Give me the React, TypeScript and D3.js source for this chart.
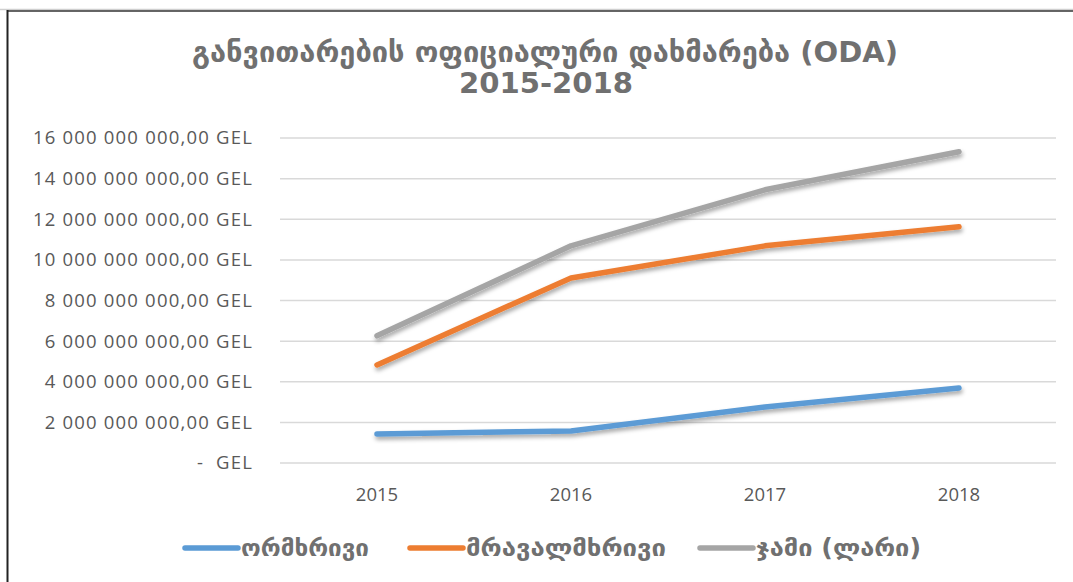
import React, { useEffect } from "react";
import * as d3 from "d3";

const years = ["2015", "2016", "2017", "2018"];
const bilateral = [1.43e9, 1.58e9, 2.76e9, 3.69e9];
const multilateral = [4.83e9, 9.11e9, 10.69e9, 11.63e9];
const total = [6.26e9, 10.69e9, 13.45e9, 15.32e9];
const seriesNames = ["ორმხრივი", "მრავალმხრივი", "ჯამი (ლარი)"];
const seriesColors = ["#5b9bd5", "#ed7d31", "#a5a5a5"];
const yTicks = [0, 2e9, 4e9, 6e9, 8e9, 10e9, 12e9, 14e9, 16e9];
const titleLines = ["განვითარების ოფიციალური დახმარება (ODA)", "2015-2018"];

const W = 1073;
const H = 582;
const plot = { left: 280, right: 1056, top: 138, bottom: 463 };

function fmt(v: number): string {
  const s = d3.format(",.2f")(v).replace(/,/g, " ").replace(".", ",");
  return s + " GEL";
}

export default function App() {
  useEffect(() => {
    document.body.style.margin = "0";
    document.body.style.overflow = "hidden";
  }, []);
  const x = d3.scaleBand<string>().domain(years).range([plot.left, plot.right]);
  const y = d3.scaleLinear().domain([0, 16e9]).range([plot.bottom, plot.top]);
  const line = d3
    .line<number>()
    .x((_, i) => (x(years[i]) as number) + x.bandwidth() / 2)
    .y((d) => y(d));
  const data = [bilateral, multilateral, total];
  const legendX = [185, 410, 700];
  const legendLen = [128, 200, 165];
  const georgian = "'DejaVu Sans', 'Noto Sans', sans-serif";
  const axisFont = "'Open Sans', 'Liberation Sans', sans-serif";
  return (
    <svg
      width={W}
      height={H}
      style={{ position: "absolute", left: 0, top: 0, background: "#fff", display: "block" }}
    >
      <defs>
        <filter id="sh" x="-10%" y="-10%" width="120%" height="130%">
          <feDropShadow dx="1" dy="3" stdDeviation="2" floodColor="#000" floodOpacity="0.35" />
        </filter>
      </defs>
      <line x1={0} x2={W} y1={9.5} y2={9.5} stroke="#cfcfcf" strokeWidth={1.5} />
      <line x1={7} x2={W} y1={11} y2={11} stroke="#333" strokeWidth={1.5} />
      <line x1={7.5} x2={7.5} y1={10} y2={H} stroke="#222" strokeWidth={2} />
      <g fontFamily={georgian} fontWeight="bold" fill="#707070" textAnchor="middle">
        <text x={545} y={62} fontSize={28} textLength={706} lengthAdjust="spacingAndGlyphs">
          {titleLines[0]}
        </text>
        <text x={546} y={93} fontSize={28} textLength={174} lengthAdjust="spacingAndGlyphs">
          {titleLines[1]}
        </text>
      </g>
      {yTicks.map((t) => (
        <g key={t}>
          <line x1={plot.left} x2={plot.right} y1={y(t)} y2={y(t)} stroke="#d9d9d9" strokeWidth={1.5} />
          {t === 0 ? (
            <g fontFamily={axisFont} fontSize={18.5} fill="#595959">
              <text x={197} y={y(t)} dy="0.35em">-</text>
              <text x={253} y={y(t)} dy="0.35em" textAnchor="end" letterSpacing={1.2}>GEL</text>
            </g>
          ) : (
            <text
              x={253}
              y={y(t)}
              dy="0.35em"
              textAnchor="end"
              fontFamily={axisFont}
              fontSize={18.5}
              fill="#595959"
              letterSpacing={1.2}
            >
              {fmt(t)}
            </text>
          )}
        </g>
      ))}
      {years.map((yr) => (
        <text
          key={yr}
          x={(x(yr) as number) + x.bandwidth() / 2}
          y={495}
          dy="0.35em"
          textAnchor="middle"
          fontFamily={axisFont}
          fontSize={18.5}
          fill="#595959"
        >
          {yr}
        </text>
      ))}
      {data.map((d, i) => (
        <path
          key={i}
          d={line(d) || ""}
          fill="none"
          stroke={seriesColors[i]}
          strokeWidth={5.5}
          strokeLinecap="round"
          strokeLinejoin="round"
          filter="url(#sh)"
        />
      ))}
      {seriesNames.map((n, i) => (
        <g key={n}>
          <line
            x1={legendX[i]}
            x2={legendX[i] + 53}
            y1={548}
            y2={548}
            stroke={seriesColors[i]}
            strokeWidth={5.5}
            strokeLinecap="round"
          />
          <text
            x={legendX[i] + 56}
            y={548}
            dy="0.35em"
            fontFamily={georgian}
            fontWeight="bold"
            fontSize={24}
            fill="#707070"
            textLength={legendLen[i]}
            lengthAdjust="spacingAndGlyphs"
          >
            {n}
          </text>
        </g>
      ))}
    </svg>
  );
}
